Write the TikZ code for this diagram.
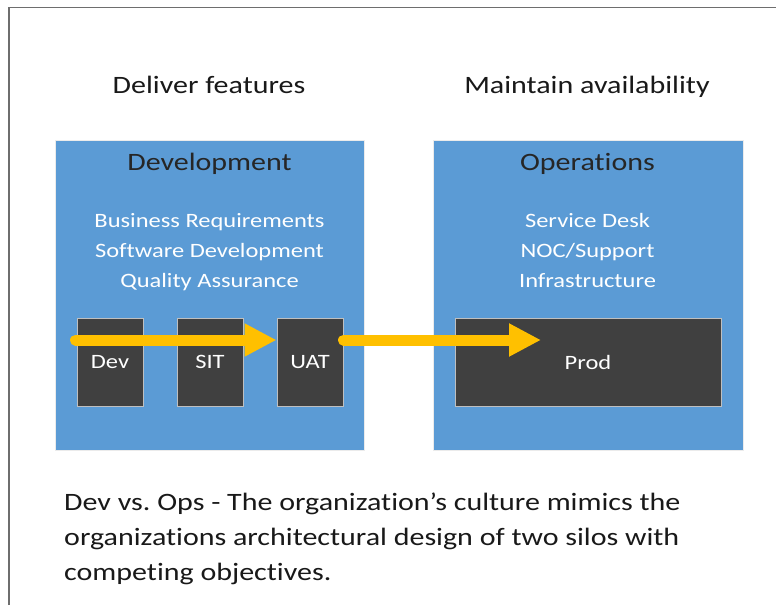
\documentclass[tikz,border=0pt]{standalone}
\usepackage{fontspec}
\setmainfont{Carlito}[Ligatures=NoCommon,FakeStretch=1.2]
\usetikzlibrary{arrows.meta}
\definecolor{silo}{HTML}{5B9BD5}
\definecolor{env}{HTML}{404040}
\definecolor{flow}{HTML}{FFC000}
\definecolor{frame}{HTML}{6E6E6E}
\begin{document}
\frenchspacing
\begin{tikzpicture}[x=1pt,y=-1pt,
  silobox/.style={fill=silo,draw=black!8,line width=1.2pt,anchor=north west,inner sep=0pt},
  envbox/.style={fill=env,draw=black!25,line width=1pt,text=white,font=\fontsize{20.4}{24}\selectfont,inner sep=0pt},
  heading/.style={font=\fontsize{25}{30}\selectfont,text=black!90,anchor=base,inner sep=0pt},
  silotitle/.style={font=\fontsize{25}{30}\selectfont,text=black!85,anchor=base,inner sep=0pt},
  silolist/.style={font=\fontsize{20.4}{25}\selectfont,text=white,anchor=base,inner sep=0pt},
  flowarrow/.style={draw=flow,line width=11pt,line cap=round,-{Triangle[length=32pt,width=31pt]}}]
\useasboundingbox (0,0) rectangle (776,605);
\fill[white] (0,0) rectangle (776,605);
\draw[frame,line width=1.6pt] (9,605) -- (9,7.5) -- (776,7.5);
% headings
\node[heading] (h1) at (209,93) {Deliver features};
\node[heading] (h2) at (587,93) {Maintain availability};
% silos
\node[silobox,minimum width=309pt,minimum height=310pt] (dev) at (55,140) {};
\node[silobox,minimum width=310pt,minimum height=310pt] (ops) at (433,140) {};
\node[silotitle] (devt) at (209.5,170) {Development};
\node[silotitle] (opst) at (587.5,170) {Operations};
\node[silolist] (devl1) at (209.5,227) {Business Requirements};
\node[silolist] (devl2) at (209.5,257) {Software Development};
\node[silolist] (devl3) at (209.5,287) {Quality Assurance};
\node[silolist] (opsl1) at (587.5,227) {Service Desk};
\node[silolist] (opsl2) at (587.5,257) {NOC/Support};
\node[silolist] (opsl3) at (587.5,287) {Infrastructure};
% environments
\node[envbox,minimum width=66pt,minimum height=88pt] (e1) at (110,362) {Dev};
\node[envbox,minimum width=66pt,minimum height=88pt] (e2) at (210,362) {SIT};
\node[envbox,minimum width=66pt,minimum height=88pt] (e3) at (310,362) {UAT};
\node[envbox,minimum width=266pt,minimum height=88pt] (e4) at (588,362) {Prod};
% flow arrows
\coordinate (s1) at (75.5,340);
\coordinate (t2) at (541,340);
\draw[flowarrow] (s1) -- (s1 -| e3.west);
\draw[flowarrow] (e3.east |- s1) -- (t2);
% caption
\node[anchor=base west,align=left,font=\fontsize{25}{35}\selectfont,text=black!90,inner sep=0pt] (cap) at (64,580)
 {Dev vs. Ops - The organization’s culture mimics the\\organizations architectural design of two silos with\\competing objectives.};
\end{tikzpicture}
\end{document}
